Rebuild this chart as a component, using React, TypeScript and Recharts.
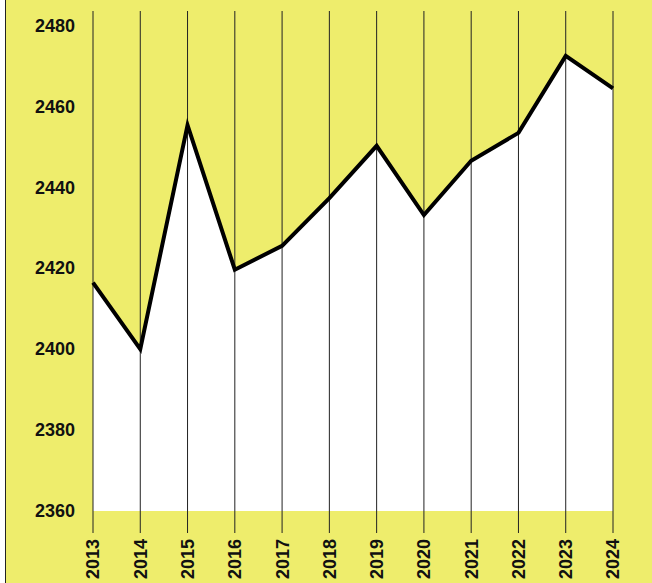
import { ComposedChart, Area, Line, XAxis, YAxis, ReferenceLine } from 'recharts';

const years = ['2013', '2014', '2015', '2016', '2017', '2018', '2019', '2020', '2021', '2022', '2023', '2024'];
const values = [2416.4, 2400, 2455.3, 2419.6, 2425.5, 2437.3, 2450.2, 2433.1, 2446.5, 2453.4, 2472.4, 2464.4];
const yTicks = [2360, 2380, 2400, 2420, 2440, 2460, 2480];

const data = years.map((year, i) => ({ year, value: values[i] }));

const YELLOW = '#EEED6C';

function YearTick(props: any) {
  const { x, y, payload } = props;
  return (
    <text
      transform={`translate(${x},${y}) rotate(-90)`}
      textAnchor="end"
      dy="0.36em"
      fontSize={18}
      fontWeight="bold"
      fill="#111"
      fontFamily="'Liberation Sans', Arial, sans-serif"
    >
      {payload.value}
    </text>
  );
}

export default function App() {
  return (
    <div style={{ position: 'absolute', left: 0, top: 0, width: 652, height: 583, background: '#fff' }}>
      <div style={{ position: 'absolute', left: 5, top: 0, width: 1, height: 583, background: '#222' }} />
      <div style={{ position: 'absolute', left: 6, top: 0, width: 646, height: 583, background: YELLOW }} />
      <div style={{ position: 'absolute', left: 0, top: 0 }}>
        <ComposedChart width={652} height={583} data={data} margin={{ top: 11, right: 39, left: 13, bottom: 0 }}>
          <XAxis
            dataKey="year"
            axisLine={false}
            tickSize={22}
            tickMargin={6}
            tickLine={{ stroke: '#222', strokeWidth: 1 }}
            tick={<YearTick />}
            interval={0}
            height={72}
            padding={{ left: 0, right: 0 }}
          />
          <YAxis
            domain={[2360, 2483.5]}
            ticks={yTicks}
            axisLine={false}
            tickLine={false}
            tickSize={0}
            tickMargin={18}
            width={80}
            tick={{ fontSize: 18, fontWeight: 'bold', fill: '#111', fontFamily: "'Liberation Sans', Arial, sans-serif" }}
          />
          <Area
            type="linear"
            dataKey="value"
            stroke="none"
            fill="#fff"
            fillOpacity={1}
            isAnimationActive={false}
          />
          {years.map((yr) => (
            <ReferenceLine key={yr} x={yr} stroke="#222" strokeWidth={1} />
          ))}
          <Line
            type="linear"
            dataKey="value"
            stroke="#000"
            strokeWidth={4}
            strokeLinejoin="miter"
            dot={false}
            activeDot={false}
            isAnimationActive={false}
          />
        </ComposedChart>
      </div>
    </div>
  );
}
